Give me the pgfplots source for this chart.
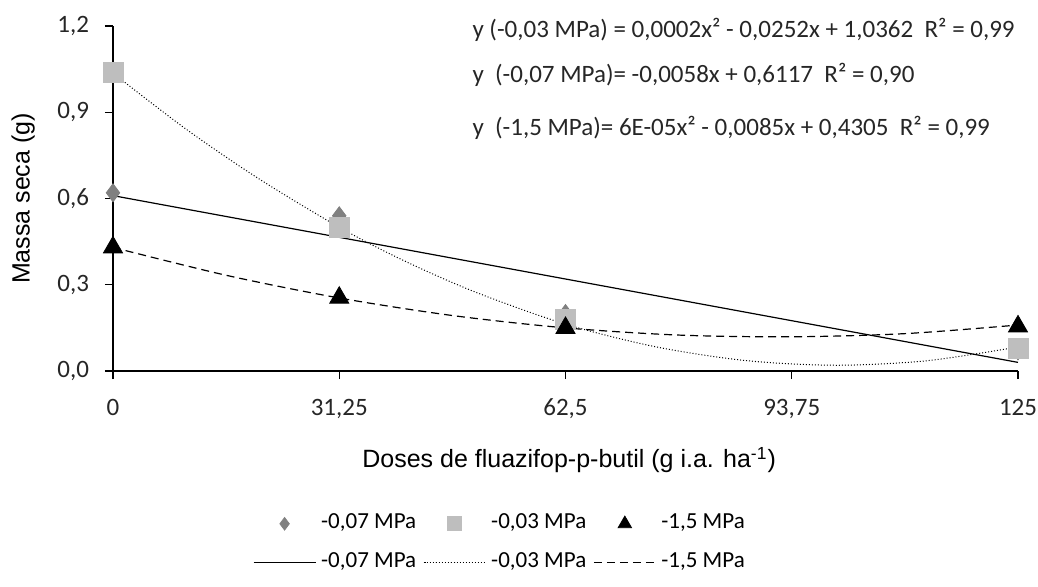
\documentclass[border=0pt]{standalone}
\usepackage{fontspec}
\setmainfont{Carlito}
\newfontfamily\arialf{Liberation Sans}
\usepackage{pgfplots}
\pgfplotsset{compat=1.18}
\definecolor{dgray}{RGB}{128,128,128}
\definecolor{lgray}{RGB}{190,190,190}
\begin{document}
\begin{tikzpicture}
\useasboundingbox (-56.5pt,-107.5pt) rectangle (462.5pt,185.5pt);
\begin{axis}[
  scale only axis,
  width=452.5pt, height=172.5pt,
  xmin=0, xmax=125, ymin=0, ymax=1.2,
  axis lines*=left,
  axis line style={black, line width=0.6pt},
  clip=false,
  tick align=outside,
  major tick length=4pt,
  tick style={black, line width=0.6pt},
  xtick={0,31.25,62.5,93.75,125},
  xticklabels={0,{31,25},{62,5},{93,75},125},
  ytick={0,0.3,0.6,0.9,1.2},
  yticklabels={{0,0},{0,3},{0,6},{0,9},{1,2}},
  /pgf/number format/assume math mode=true,
  ticklabel style={font=\fontsize{12.5}{14}\selectfont, text=black!85},
  xticklabel style={yshift=-6.5pt},
  yticklabel style={xshift=-4.5pt},
  xlabel={\arialf Doses de fluazifop-p-butil (g i.a. ha\textsuperscript{-1})},
  ylabel={\arialf Massa seca (g)},
  label style={font=\fontsize{12.5}{14}\selectfont},
  xlabel style={at={(axis description cs:0.504,-0.258)}, anchor=center},
  ylabel style={at={(axis description cs:-0.0994,0.5)}, anchor=center},
  legend columns=3,
  legend cell align=left,
  legend image code/.code={\draw[mark repeat=2,mark phase=2,#1,/tikz/every mark/.append style={scale=0.7}] plot coordinates {(0pt,0pt) (15.5pt,0pt) (31pt,0pt)};},
  legend style={at={(axis description cs:0.1547,-0.411)}, anchor=north west,
    draw=none, fill=none, inner sep=0pt, outer sep=0pt,
    font=\fontsize{11.5}{13}\selectfont,
    row sep=8.5pt,
    nodes={text height=7pt, text depth=2pt, inner sep=1pt},
    /tikz/every odd column/.append style={column sep=1.5pt},
    /tikz/every even column/.append style={column sep=2.5pt}},
]
% observed means
\addplot[only marks, mark=diamond*, mark size=4.5pt, color=dgray, mark options={fill=dgray, draw=dgray}]
  coordinates {(0,0.62) (31.25,0.54) (62.5,0.20) (125,0.07)};
\addlegendentry{-0,07 MPa}
\addplot[only marks, mark=square*, mark size=5pt, color=lgray, mark options={fill=lgray, draw=lgray}]
  coordinates {(0,1.04) (31.25,0.50) (62.5,0.18) (125,0.08)};
\addlegendentry{-0,03 MPa}
\addplot[only marks, mark=triangle*, mark size=5.5pt, color=black]
  coordinates {(0,0.43) (31.25,0.255) (62.5,0.15) (125,0.155)};
\addlegendentry{-1,5 MPa}
% trend lines
\addplot[black, line width=0.6pt, mark=none]
  coordinates {(0,0.61) (125,0.03)};
\addlegendentry{-0,07 MPa}
\addplot[black, line width=0.5pt, densely dotted, mark=none, smooth]
  coordinates {(0,1.036) (10,0.843) (20,0.671) (31.25,0.500) (40,0.386) (50,0.275) (62.5,0.163) (75,0.084) (87.5,0.036) (100,0.02) (112.5,0.036) (125,0.0835)};
\addlegendentry{-0,03 MPa}
\addplot[black, line width=0.6pt, dash pattern=on 4pt off 2.5pt, mark=none, smooth]
  coordinates {(0,0.43) (15.625,0.333) (31.25,0.254) (46.875,0.193) (62.5,0.15) (78.125,0.125) (93.75,0.119) (109.375,0.130) (125,0.16)};
\addlegendentry{-1,5 MPa}
\node[anchor=west, font=\fontsize{12.5}{14}\selectfont, text=black!85, inner sep=0pt] at (axis cs:49.6,1.186) {y (-0,03 MPa) = 0,0002x² - 0,0252x + 1,0362\ \ R² = 0,99};
\node[anchor=west, font=\fontsize{12.5}{14}\selectfont, text=black!85, inner sep=0pt] at (axis cs:49.6,1.030) {y\ \ (-0,07 MPa)= -0,0058x + 0,6117\ \ R² = 0,90};
\node[anchor=west, font=\fontsize{12.5}{14}\selectfont, text=black!85, inner sep=0pt] at (axis cs:49.6,0.845) {y\ \ (-1,5 MPa)= 6E-05x² - 0,0085x + 0,4305\ \ R² = 0,99};
\end{axis}
\end{tikzpicture}
\end{document}
